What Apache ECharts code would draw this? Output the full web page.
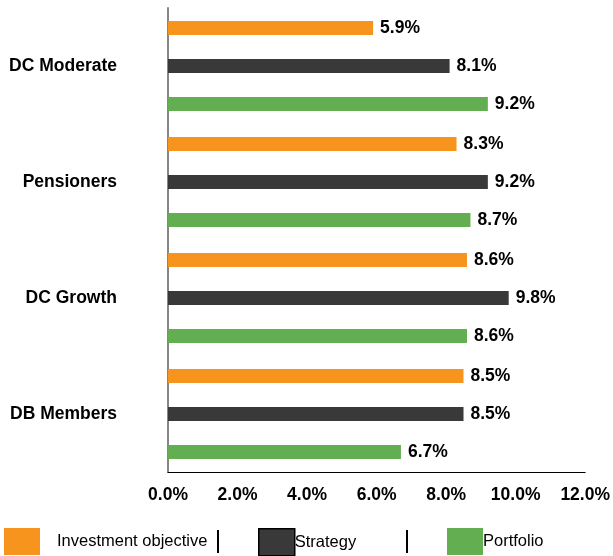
<!DOCTYPE html>
<html>
<head>
<meta charset="utf-8">
<script src="https://cdn.jsdelivr.net/npm/echarts@6/dist/echarts.min.js"></script>
<style>
    html, body { margin: 0; padding: 0; background: #fff; }
    #chart { width: 613px; height: 556px; }
</style>
</head>
<body>
<div id="chart"></div>
<script>
// bottom to top, as the category axis draws them
const groups = ['DB Members', 'DC Growth', 'Pensioners', 'DC Moderate'];
const objective = [8.5, 8.6, 8.3, 5.9];
const strategy = [8.5, 9.8, 9.2, 8.1];
const portfolio = [6.7, 8.6, 8.7, 9.2];
const xTicks = [0, 2, 4, 6, 8, 10, 12];

const FONT = 'Liberation Sans, Arial, sans-serif';

function barSeries(name, values, color) {
    return {
        name: name,
        type: 'bar',
        data: values,
        barWidth: 14,
        barGap: '171%',
        barCategoryGap: 26,
        itemStyle: { color: color },
        label: {
            show: true,
            position: 'right',
            distance: 7,
            formatter: p => p.value.toFixed(1) + '%',
            color: '#000',
            fontFamily: FONT,
            fontWeight: 'bold',
            fontSize: 17.5
        }
    };
}

function legendBox(item, left, textPad) {
    return {
        data: [item],
        left: left, top: 528,
        padding: 0,
        icon: 'rect', itemWidth: 36, itemHeight: 27,
        textStyle: { fontFamily: FONT, fontSize: 16.5, color: '#000', padding: textPad }
    };
}

const chart = echarts.init(document.getElementById('chart'));

chart.setOption({
    animation: false,
    grid: { left: 168, right: 27, top: 8, bottom: 84, containLabel: false },
    xAxis: {
        type: 'value',
        min: xTicks[0],
        max: xTicks[xTicks.length - 1],
        interval: 2,
        axisLine: { show: true, lineStyle: { color: '#000', width: 1 } },
        axisTick: { show: false },
        splitLine: { show: false },
        axisLabel: {
            margin: 14,
            formatter: v => v.toFixed(1) + '%',
            color: '#000',
            fontFamily: FONT,
            fontWeight: 'bold',
            fontSize: 17.5
        }
    },
    yAxis: {
        type: 'category',
        data: groups,
        axisLine: { show: true, lineStyle: { color: '#868686', width: 2 } },
        axisTick: { show: false },
        axisLabel: {
            margin: 51,
            color: '#000',
            fontFamily: FONT,
            fontWeight: 'bold',
            fontSize: 17.5
        }
    },
    legend: [
        legendBox('Investment objective', 4, [0, 0, 0, 12]),
        legendBox({ name: 'Strategy', itemStyle: { borderColor: '#000', borderWidth: 1.5 } }, 258, [0, 0, 0, -5]),
        legendBox('Portfolio', 447, [0, 0, 0, -5])
    ],
    graphic: [
        { type: 'line', shape: { x1: 218, y1: 530, x2: 218, y2: 553 }, style: { stroke: '#000', lineWidth: 2 } },
        { type: 'line', shape: { x1: 407, y1: 530, x2: 407, y2: 553 }, style: { stroke: '#000', lineWidth: 2 } }
    ],
    series: [
        barSeries('Investment objective', objective, '#F7941E'),
        barSeries('Strategy', strategy, '#393939'),
        barSeries('Portfolio', portfolio, '#63AE51')
    ]
});
</script>
</body>
</html>
